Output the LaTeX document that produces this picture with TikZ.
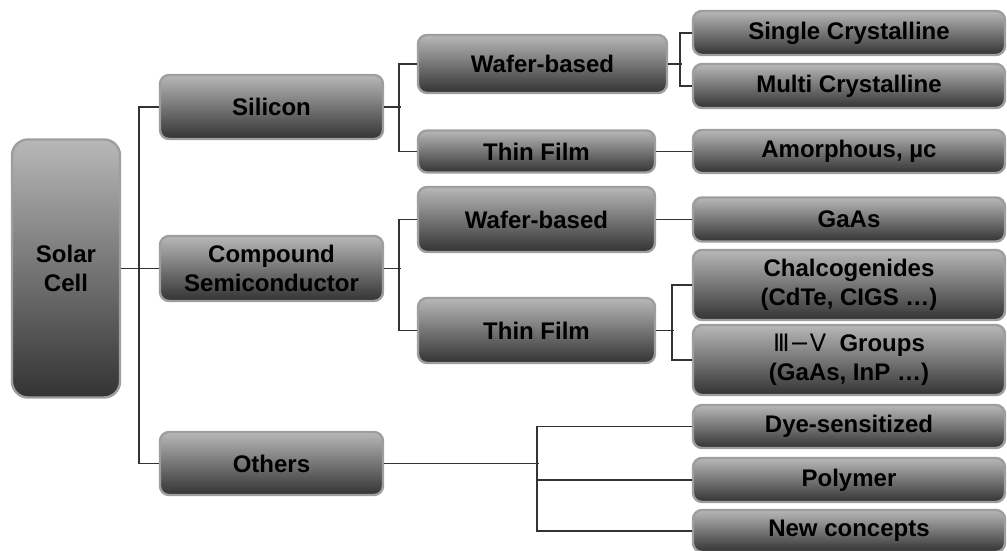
\documentclass[tikz,border=0pt]{standalone}
\usepackage{fontspec}
\setmainfont{Liberation Sans}
\newfontfamily\romfont{DejaVu Sans}
\begin{document}
\begin{tikzpicture}[x=1pt,y=-1pt]
\tikzset{
  box/.style={rounded corners=9pt, draw=black!38, line width=2.4pt,
    top color=black!28, bottom color=black!80, text=black,
    font=\bfseries\fontsize{24}{29}\selectfont, align=center, inner sep=0pt},
  link/.style={draw=black!80, line width=1.4pt}
}
\useasboundingbox (0,0) rectangle (1007,550);
% level 0
\node[box, rounded corners=16pt, minimum width=108pt, minimum height=258pt] (solar) at (66,268.5) {Solar\\Cell};
% level 1
\node[box, minimum width=223pt, minimum height=64pt] (silicon) at (271.5,107) {Silicon};
\node[box, minimum width=223pt, minimum height=65pt] (compound) at (271.5,268.5) {Compound\\Semiconductor};
\node[box, minimum width=223pt, minimum height=63pt] (others) at (271.5,463.5) {Others};
% level 2
\node[box, minimum width=249pt, minimum height=58pt] (wafer1) at (542.5,64) {Wafer-based};
\node[box, minimum width=237pt, minimum height=42pt] (thin1) at (536.5,151.5) {Thin Film};
\node[box, minimum width=237pt, minimum height=65pt] (wafer2) at (536.5,219.5) {Wafer-based};
\node[box, minimum width=237pt, minimum height=65pt] (thin2) at (536.5,330.5) {Thin Film};
% level 3
\node[box, minimum width=312pt, minimum height=44pt] (single) at (849,33) {Single Crystalline};
\node[box, minimum width=312pt, minimum height=44pt] (multi) at (849,86) {Multi Crystalline};
\node[box, minimum width=312pt, minimum height=43pt] (amorph) at (849,151.5) {Amorphous, µc};
\node[box, minimum width=312pt, minimum height=44pt] (gaas) at (849,219.5) {GaAs};
\node[box, minimum width=312pt, minimum height=70pt] (chalco) at (849,285) {Chalcogenides\\(CdTe, CIGS …)};
\node[box, minimum width=312pt, minimum height=70pt] (iiiv) at (849,360) {{\romfont\mdseries Ⅲ−Ⅴ}\ \ Groups\\(GaAs, InP …)};
\node[box, minimum width=312pt, minimum height=43pt] (dye) at (849,426.5) {Dye-sensitized};
\node[box, minimum width=312pt, minimum height=44pt] (polymer) at (849,480) {Polymer};
\node[box, minimum width=312pt, minimum height=42pt] (newc) at (849,531) {New concepts};
% connectors
\draw[link] (solar.east) -- (compound.west);
\draw[link] (silicon.west) -- ++(-20,0) |- (others.west);
\draw[link] (silicon.east) -- ++(17,0);
\draw[link] (wafer1.west) -- ++(-18,0) |- (thin1.west);
\draw[link] (compound.east) -- ++(17,0);
\draw[link] (wafer2.west) -- ++(-18,0) |- (thin2.west);
\draw[link] (wafer1.east) -- ++(14,0);
\draw[link] (single.west) -- ++(-12,0) |- (multi.west);
\draw[link] (thin1.east) -- (amorph.west);
\draw[link] (wafer2.east) -- (gaas.west);
\draw[link] (thin2.east) -- ++(18,0);
\draw[link] (chalco.west) -- ++(-20,0) |- (iiiv.west);
\draw[link] (others.east) -- ++(155,0);
\draw[link] (dye.west) -- ++(-155,0) |- (newc.west);
\draw[link] (polymer.west) -- ++(-155,0);
\end{tikzpicture}
\end{document}
